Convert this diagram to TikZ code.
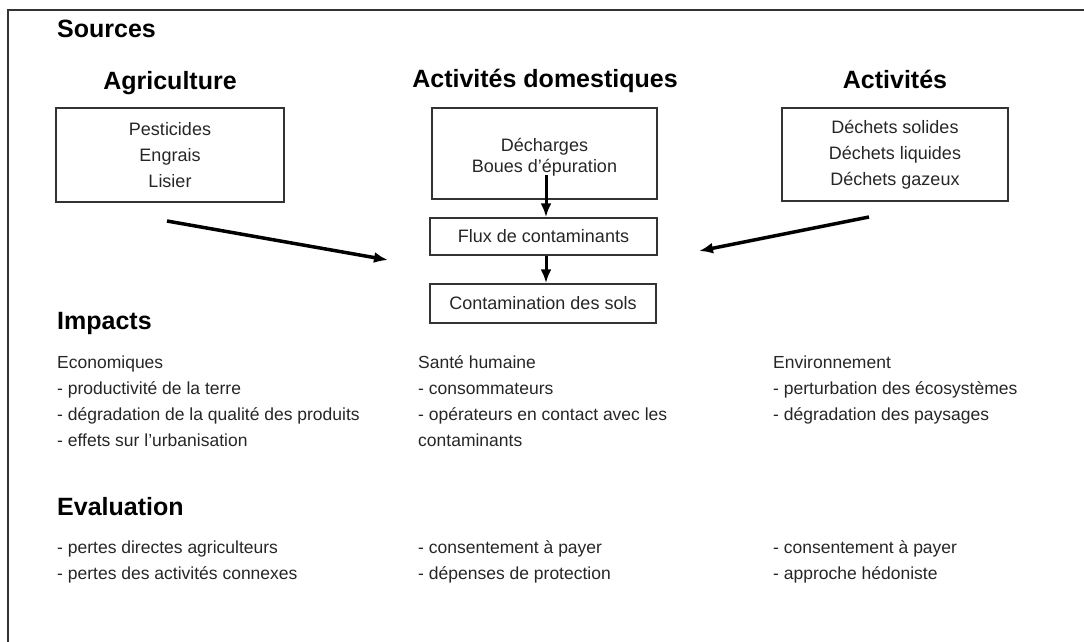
\documentclass[tikz,border=0pt]{standalone}
\usepackage{fontspec}
\setmainfont{Liberation Sans}
\usetikzlibrary{arrows.meta}
\definecolor{txtgray}{HTML}{262626}
\definecolor{framegray}{HTML}{333333}

\begin{document}
\begin{tikzpicture}[x=1pt,y=-1pt,
  heading/.style={inner sep=0pt, font=\fontsize{25}{28}\selectfont\bfseries},
  srcbox/.style={draw=framegray, line width=1.5pt, inner sep=0pt, text=txtgray, align=center, font=\fontsize{18}{26}\selectfont},
  boxtext/.style={inner sep=0pt, text=txtgray, align=center, font=\fontsize{18}{21}\selectfont},
  listtext/.style={anchor=base west, inner sep=0pt, text=txtgray, font=\fontsize{17.5}{26}\selectfont},
  flow/.style={line width=3.5pt, -{Latex[length=14pt,width=11pt]}}]
  \useasboundingbox (0,0) rectangle (1084,641);
  \clip (0,0) rectangle (1084,641);
  \draw[framegray, line width=2.5pt] (8,700) -- (8,10) -- (1150,10);

  % sources
  \node[heading, anchor=base west] (sources) at (57,37) {Sources};
  \node[heading, anchor=base] (agrihead) at (170,89) {Agriculture};
  \node[heading, anchor=base] (domhead) at (545,87) {Activités domestiques};
  \node[heading, anchor=base] (acthead) at (895,88) {Activités};

  \node[srcbox, minimum width=228pt, minimum height=94pt] (agri) at (170,155) {Pesticides\\Engrais\\Lisier};
  \node[srcbox, minimum width=225pt, minimum height=91pt] (dom) at (544.5,153.5) {};
  \node[boxtext] (domtext) at (544.5,157) {Décharges\\Boues d’épuration};
  \node[srcbox, minimum width=226pt, minimum height=93pt] (act) at (895,154.5) {Déchets solides\\Déchets liquides\\Déchets gazeux};
  \node[srcbox, minimum width=227pt, minimum height=37pt] (flux) at (543.5,236.5) {Flux de contaminants};
  \node[srcbox, minimum width=226pt, minimum height=39pt] (contam) at (543,303.5) {Contamination des sols};

  % arrows
  \coordinate (domout) at (546,175);
  \draw[flow, line width=3pt] (domout) -- (domout |- flux.north);
  \draw[flow, line width=3pt] (domout |- flux.south) -- (domout |- contam.north);
  \coordinate (agristart) at (167,221);
  \coordinate (agritip) at (388,260);
  \draw[flow] (agristart) -- (agritip);
  \coordinate (actstart) at (869,217);
  \coordinate (acttip) at (699,251);
  \draw[flow] (actstart) -- (acttip);

  % impacts
  \node[heading, anchor=base west] (impacts) at (57,329) {Impacts};
  \foreach \txt [count=\i] in {Economiques, - productivité de la terre, - dégradation de la qualité des produits, - effets sur l’urbanisation}
    \node[listtext] (eco\i) at (57,{368+26*(\i-1)}) {\txt};
  \foreach \txt [count=\i] in {Santé humaine, - consommateurs, - opérateurs en contact avec les, contaminants}
    \node[listtext] (sante\i) at (418,{368+26*(\i-1)}) {\txt};
  \foreach \txt [count=\i] in {Environnement, - perturbation des écosystèmes, - dégradation des paysages}
    \node[listtext] (envir\i) at (773,{368+26*(\i-1)}) {\txt};

  % evaluation
  \node[heading, anchor=base west] (evaluation) at (57,515) {Evaluation};
  \foreach \txt [count=\i] in {- pertes directes agriculteurs, - pertes des activités connexes}
    \node[listtext] (evagri\i) at (57,{553+26*(\i-1)}) {\txt};
  \foreach \txt [count=\i] in {- consentement à payer, - dépenses de protection}
    \node[listtext] (evsante\i) at (418,{553+26*(\i-1)}) {\txt};
  \foreach \txt [count=\i] in {- consentement à payer, - approche hédoniste}
    \node[listtext] (evenvir\i) at (773,{553+26*(\i-1)}) {\txt};
\end{tikzpicture}
\end{document}
